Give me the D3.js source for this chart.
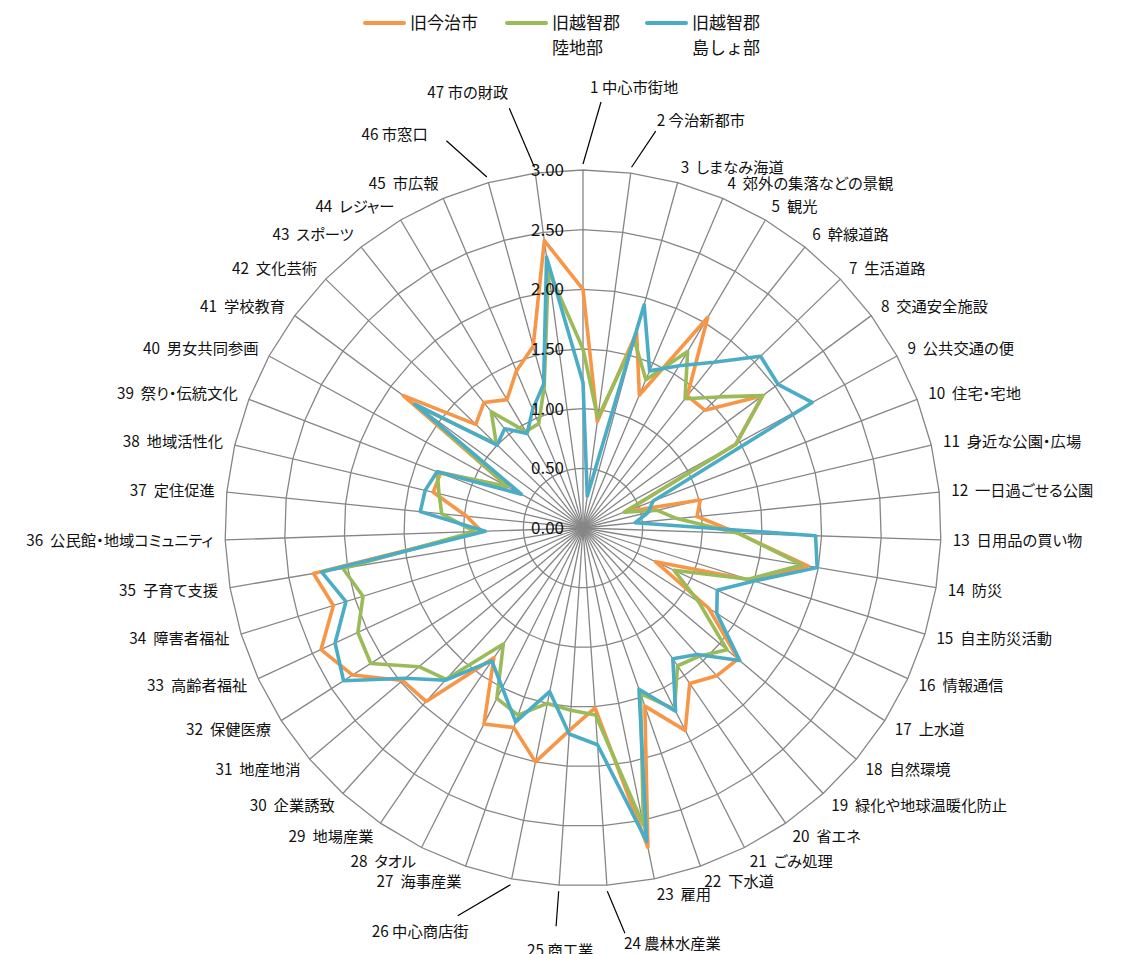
<!DOCTYPE html>
<html>
<head>
<meta charset="utf-8">
<script src="https://cdn.jsdelivr.net/npm/d3@7"></script>
<style>
  html, body { margin: 0; padding: 0; background: #fff; }
  svg { display: block; }
  text { font-family: "Noto Sans CJK JP", "Noto Sans", sans-serif; fill: #111; }
</style>
</head>
<body>
<svg id="chart" width="1122" height="954"></svg>
<script>
// 47 survey items (satisfaction score, 0-3)
const categories = [
  "中心市街地", "今治新都市", "しまなみ海道", "郊外の集落などの景観", "観光",
  "幹線道路", "生活道路", "交通安全施設", "公共交通の便", "住宅・宅地",
  "身近な公園・広場", "一日過ごせる公園", "日用品の買い物", "防災", "自主防災活動",
  "情報通信", "上水道", "自然環境", "緑化や地球温暖化防止", "省エネ",
  "ごみ処理", "下水道", "雇用", "農林水産業", "商工業",
  "中心商店街", "海事産業", "タオル", "地場産業", "企業誘致",
  "地産地消", "保健医療", "高齢者福祉", "障害者福祉", "子育て支援",
  "公民館・地域コミュニティ", "定住促進", "地域活性化", "祭り・伝統文化", "男女共同参画",
  "学校教育", "文化芸術", "スポーツ", "レジャー", "市広報",
  "市窓口", "市の財政"
];

const seriesNames = [["旧今治市"], ["旧越智郡", "陸地部"], ["旧越智郡", "島しょ部"]];

const imabariValues = [
  2.00, 0.90, 1.70, 1.21, 2.05, 1.41, 1.42, 1.87, 1.46, 0.38,
  1.01, 0.96, 1.30, 1.91, 1.47, 0.67, 1.25, 1.70, 1.67, 1.58,
  1.90, 1.58, 2.73, 1.51, 1.70, 2.00, 1.77, 1.84, 1.32, 1.96,
  1.98, 2.29, 2.42, 2.19, 2.29, 0.85, 0.98, 1.29, 1.28, 0.72,
  1.87, 1.25, 1.34, 1.25, 1.43, 1.58, 2.43
];
const rikuchiValues = [
  1.50, 0.93, 1.63, 1.35, 1.72, 1.38, 1.58, 1.87, 1.46, 0.37,
  0.64, 0.79, 1.30, 1.86, 1.45, 0.84, 1.15, 1.58, 1.45, 1.40,
  1.70, 1.47, 2.54, 1.57, 1.53, 1.50, 1.66, 1.60, 1.18, 1.71,
  1.80, 2.11, 2.08, 1.93, 2.04, 0.91, 1.19, 1.24, 1.31, 0.72,
  1.72, 1.01, 1.24, 0.94, 0.95, 1.23, 2.18
];
const shimaValues = [
  1.22, 0.27, 1.94, 1.43, 1.58, 1.77, 2.07, 2.03, 2.19, 0.63,
  0.56, 0.44, 1.95, 1.99, 1.50, 1.24, 1.33, 1.72, 1.43, 1.33,
  1.72, 1.43, 2.68, 1.82, 1.73, 1.40, 1.72, 1.50, 1.35, 1.72,
  1.95, 2.38, 2.29, 2.08, 2.22, 0.82, 1.37, 1.36, 1.31, 0.59,
  1.75, 1.00, 1.06, 0.92, 1.08, 1.25, 2.29
];

const tickValues = [0, 0.5, 1, 1.5, 2, 2.5, 3];
const tickLabels = ["0.00", "0.50", "1.00", "1.50", "2.00", "2.50", "3.00"];

const seriesColors = ["#F79646", "#9BBB59", "#4BACC6"];
const seriesValues = [imabariValues, rikuchiValues, shimaValues];

// Layout
const cx = 583, cy = 528, R = 358;
const svg = d3.select("#chart");
const g = svg.append("g").attr("transform", `translate(${cx},${cy})`);

const n = categories.length;
const rScale = d3.scaleLinear().domain([0, 3]).range([0, R]);
const aScale = d3.scaleLinear().domain([0, n]).range([0, 2 * Math.PI]);
const idx = d3.range(n);

const polar = (a, r) => [r * Math.sin(a), -r * Math.cos(a)];

// Grid rings (polygonal)
const ring = d3.lineRadial()
  .angle(i => aScale(i))
  .curve(d3.curveLinearClosed);
g.append("g").selectAll("path")
  .data(tickValues.filter(v => v > 0))
  .join("path")
  .attr("d", v => ring.radius(rScale(v))(idx))
  .attr("fill", "none")
  .attr("stroke", "#868686")
  .attr("stroke-width", 1.3);

// Spokes
g.append("g").selectAll("line")
  .data(idx)
  .join("line")
  .attr("x1", 0).attr("y1", 0)
  .attr("x2", i => polar(aScale(i), rScale(3))[0])
  .attr("y2", i => polar(aScale(i), rScale(3))[1])
  .attr("stroke", "#868686")
  .attr("stroke-width", 1.3);

// Series lines
const seriesLine = d3.lineRadial()
  .angle((d, i) => aScale(i))
  .radius(d => rScale(d))
  .curve(d3.curveLinearClosed);
g.append("g").selectAll("path")
  .data(seriesValues)
  .join("path")
  .attr("d", d => seriesLine(d))
  .attr("fill", "none")
  .attr("stroke", (d, i) => seriesColors[i])
  .attr("stroke-width", 3.6)
  .attr("stroke-linejoin", "round");

// Value axis labels along the first spoke
g.append("g").selectAll("text")
  .data(tickValues)
  .join("text")
  .attr("x", -19)
  .attr("y", v => -rScale(v))
  .attr("dy", "0.36em")
  .attr("text-anchor", "end")
  .attr("font-size", 17)
  .text((v, i) => tickLabels[i]);

// Category labels
const labelGap = 12;
// Labels that are pulled away from their spoke and joined with a leader line:
// offsets of the label (left edge, middle) and the leader end from the spoke end.
const callouts = {
  0:  { label: [7, -83],      leader: [18, -68] },
  1:  { label: [26, -53],     leader: [25, -42] },
  23: { label: [17, 58],      leader: [18, 48] },
  24: { label: [-32, 65],     leader: [-3, 41] },
  25: { label: [-140, 53],    leader: [-54, 37] },
  45: { label: [-127, -48],   leader: [-42, -42] },
  46: { label: [-108, -81],   leader: [-26, -65] }
};

const labelG = g.append("g")
  .attr("font-size", 15.3)
  .style("font-feature-settings", "'palt'");

idx.forEach(i => {
  const a = aScale(i);
  const s = Math.sin(a), c = Math.cos(a);
  const co = callouts[i];
  if (co) {
    const end = polar(a, rScale(3));
    const start = polar(a, rScale(3) + 6);
    labelG.append("line")
      .attr("x1", start[0]).attr("y1", start[1])
      .attr("x2", end[0] + co.leader[0]).attr("y2", end[1] + co.leader[1])
      .attr("stroke", "#000").attr("stroke-width", 1.2);
    labelG.append("text")
      .attr("x", end[0] + co.label[0])
      .attr("y", end[1] + co.label[1])
      .attr("dy", "0.36em")
      .attr("text-anchor", "start")
      .attr("xml:space", "preserve")
      .text(`${i + 1} ${categories[i]}`);
  } else {
    const p = polar(a, rScale(3) + labelGap);
    const anchor = s > 0.05 ? "start" : (s < -0.05 ? "end" : "middle");
    labelG.append("text")
      .attr("x", p[0])
      .attr("y", p[1] - 4 * c)
      .attr("dy", "0.36em")
      .attr("text-anchor", anchor)
      .attr("xml:space", "preserve")
      .style("white-space", "pre")
      .text(`${i + 1}  ${categories[i]}`);
  }
});

// Legend
const legendX = [365, 507, 647];
const legend = svg.append("g").attr("font-size", 17);
seriesNames.forEach((lines, i) => {
  legend.append("line")
    .attr("x1", legendX[i]).attr("x2", legendX[i] + 39)
    .attr("y1", 23).attr("y2", 23)
    .attr("stroke", seriesColors[i])
    .attr("stroke-width", 4)
    .attr("stroke-linecap", "round");
  lines.forEach((t, k) => {
    legend.append("text")
      .attr("x", legendX[i] + 45)
      .attr("y", 23 + k * 25)
      .attr("dy", "0.36em")
      .text(t);
  });
});
</script>
</body>
</html>
